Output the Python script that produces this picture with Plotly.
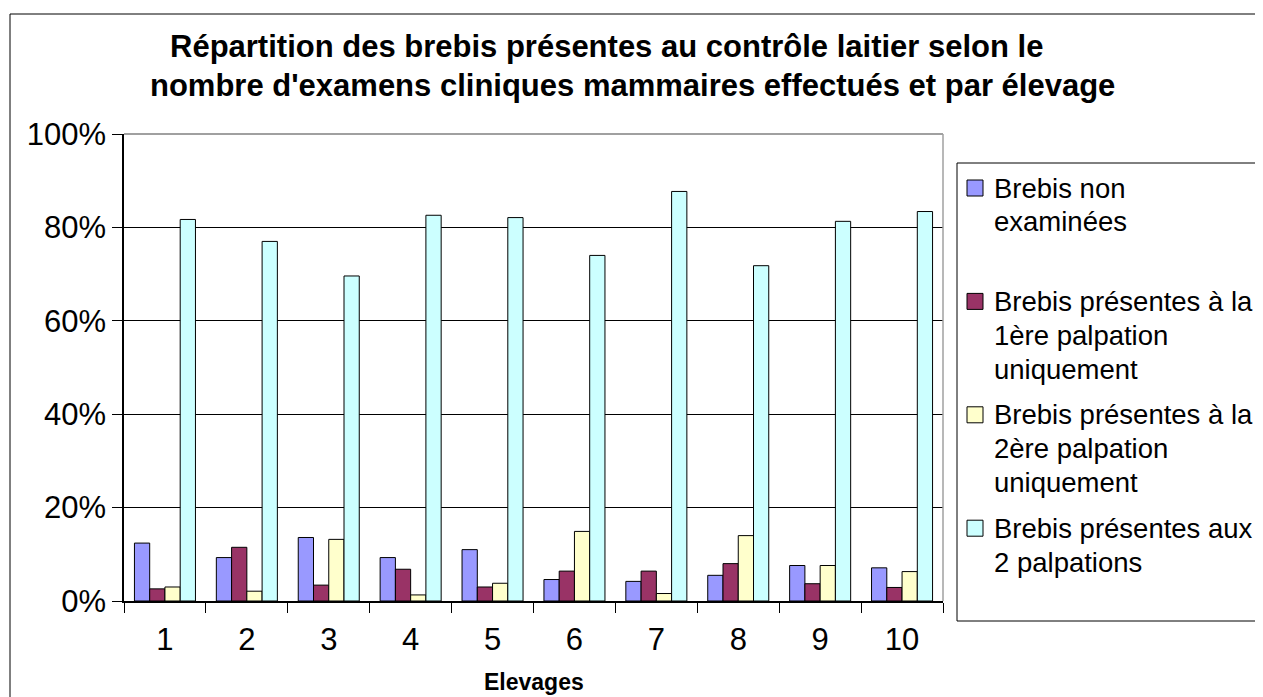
import plotly.graph_objects as go

# data (percent of ewes per farm)
elevages = ["1", "2", "3", "4", "5", "6", "7", "8", "9", "10"]
non_examinees = [12.4, 9.3, 13.6, 9.3, 11.0, 4.6, 4.2, 5.5, 7.6, 7.1]
premiere_seule = [2.6, 11.5, 3.4, 6.8, 3.0, 6.4, 6.4, 8.0, 3.7, 2.9]
deuxieme_seule = [3.0, 2.1, 13.2, 1.3, 3.8, 14.9, 1.6, 14.0, 7.6, 6.3]
deux_palpations = [81.7, 77.0, 69.6, 82.6, 82.1, 74.0, 87.7, 71.8, 81.3, 83.4]

series_names = [
    "Brebis non examinées",
    "Brebis présentes à la 1ère palpation uniquement",
    "Brebis présentes à la 2ère palpation uniquement",
    "Brebis présentes aux 2 palpations",
]
legend_lines = [
    ["Brebis non", "examinées"],
    ["Brebis présentes à la", "1ère palpation", "uniquement"],
    ["Brebis présentes à la", "2ère palpation", "uniquement"],
    ["Brebis présentes aux", "2 palpations"],
]
colors = ["#9999FF", "#993366", "#FFFFCC", "#CCFFFF"]
title_lines = [
    "Répartition des brebis présentes au contrôle laitier selon le",
    "nombre d'examens cliniques mammaires effectués et par élevage",
]

FONT = "Liberation Sans, Arial, sans-serif"
OFF = 8  # page body margin
W, H = 1263 - OFF, 697 - OFF
# plot area in page pixels
L, R, T, B = 124, 943, 134, 601


def fx(px):
    return (px - L) / (R - L)


def fy(py):
    return (B - py) / (B - T)


fig = go.Figure()
for name, vals, col in zip(series_names, [non_examinees, premiere_seule, deuxieme_seule, deux_palpations], colors):
    fig.add_trace(
        go.Bar(
            x=elevages,
            y=vals,
            name=name,
            marker=dict(color=col, line=dict(color="#000000", width=1)),
            showlegend=False,
        )
    )

shapes = [
    # outer chart border
    dict(type="rect", xref="paper", yref="paper", x0=fx(10), x1=fx(1262), y0=fy(14), y1=fy(700),
         line=dict(color="#000000", width=1)),
    # plot frame top / right
    dict(type="line", xref="paper", yref="paper", x0=0, x1=1, y0=1, y1=1,
         line=dict(color="#808080", width=1.5)),
    dict(type="line", xref="paper", yref="paper", x0=1, x1=1, y0=0, y1=1,
         line=dict(color="#a0a0a0", width=1.5)),
    # legend box
    dict(type="rect", xref="paper", yref="paper", x0=fx(957), x1=fx(1261), y0=fy(621), y1=fy(163),
         line=dict(color="#000000", width=1), fillcolor="white"),
]
annotations = []
title_centers = [606, 632]
for i, title in enumerate(title_lines):
    annotations.append(dict(
        text=f"<b>{title}</b>", xref="paper", yref="paper", x=fx(title_centers[i]), y=fy(47 + i * 39),
        xanchor="center", yanchor="middle", showarrow=False,
        font=dict(family=FONT, size=31, color="#000000"),
    ))

for i, (lines, col) in enumerate(zip(legend_lines, colors)):
    y0 = 188 + i * 113.4
    shapes.append(dict(type="rect", xref="paper", yref="paper",
                       x0=fx(967), x1=fx(983), y0=fy(y0 + 8), y1=fy(y0 - 8),
                       fillcolor=col, line=dict(color="#000000", width=1)))
    for j, line in enumerate(lines):
        annotations.append(dict(
            text=line, xref="paper", yref="paper", x=fx(992), y=fy(y0 + j * 33.8),
            xanchor="left", yanchor="middle", showarrow=False,
            font=dict(family=FONT, size=27.5, color="#000000"),
        ))

annotations.append(dict(
    text="<b>Elevages</b>", xref="paper", yref="paper", x=0.5, y=fy(682),
    xanchor="center", yanchor="middle", showarrow=False,
    font=dict(family=FONT, size=23, color="#000000"),
))

fig.update_layout(
    width=W,
    height=H,
    margin=dict(l=L - OFF, r=W - (R - OFF), t=T - OFF, b=H - (B - OFF), pad=0),
    paper_bgcolor="white",
    plot_bgcolor="white",
    barmode="group",
    bargap=0.255,
    bargroupgap=0,
    font=dict(family=FONT, color="#000000"),
    shapes=shapes,
    annotations=annotations,
)
fig.update_xaxes(
    type="category",
    tickson="boundaries",
    ticks="outside",
    ticklen=10,
    tickcolor="#000000",
    ticklabelstandoff=10,
    showline=True,
    linecolor="#000000",
    linewidth=1.5,
    showgrid=False,
    tickfont=dict(family=FONT, size=31, color="#000000"),
)
fig.update_yaxes(
    range=[0, 100],
    dtick=20,
    ticksuffix="%",
    ticks="outside",
    ticklen=10,
    tickcolor="#000000",
    showline=True,
    linecolor="#000000",
    linewidth=1.5,
    showgrid=True,
    gridcolor="#000000",
    gridwidth=1.2,
    zeroline=False,
    tickfont=dict(family=FONT, size=31, color="#000000"),
)

fig.write_html("out.html")
